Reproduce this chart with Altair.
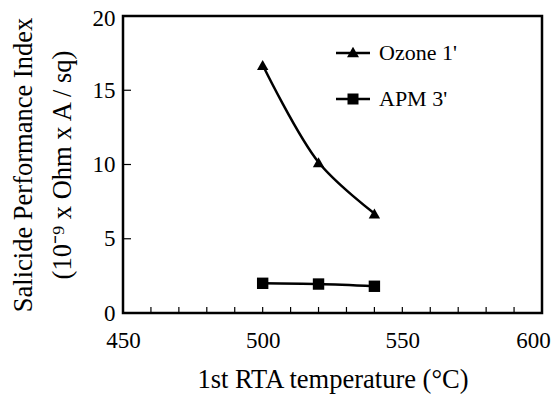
import altair as alt
import pandas as pd

# ---- data ----
temps = [500, 520, 540]
ozone = [16.7, 10.15, 6.7]
apm = [2.0, 1.95, 1.8]
series_names = ["Ozone 1'", "APM 3'"]
x_tick_labels = [450, 500, 550, 600]
x_minor_ticks = [460, 470, 480, 490, 500, 510, 520, 530, 540, 550, 560, 570, 580, 590]
y_tick_labels = [0, 5, 10, 15, 20]
y_inner_ticks = [5, 10, 15]

df = pd.DataFrame({
    "temp": temps + temps,
    "value": ozone + apm,
    "series": [series_names[0]] * len(temps) + [series_names[1]] * len(temps),
})
xt = pd.DataFrame({"t": x_minor_ticks})
yt = pd.DataFrame({"v": y_inner_ticks})

W, H = 419, 297
FONT = "Liberation Serif"

xs = alt.Scale(domain=[450, 600], nice=False, zero=False)
ys = alt.Scale(domain=[0, 20], nice=False)

x_enc = alt.X("temp:Q", scale=xs, axis=alt.Axis(
    values=x_tick_labels, title="1st RTA temperature (°C)",
    labelFlush=False, labelFont=FONT, titleFont=FONT,
    labelOffset={"condition": {"test": "datum.value == 600", "value": -9}, "value": 0},
    labelPadding=16, titlePadding=14))
y_enc = alt.Y("value:Q", scale=ys, axis=alt.Axis(
    values=y_tick_labels,
    title=["Salicide Performance Index", "(10⁻⁹ x Ohm x A / sq)"],
    labelFlush=False, labelFont=FONT, titleFont=FONT,
    labelOffset={"condition": {"test": "datum.value == 20", "value": 2}, "value": 0},
    labelPadding=8, titlePadding=16, titleLineHeight=39))

lines = alt.Chart(df).mark_line(color="black", strokeWidth=2.5, interpolate="catmull-rom").encode(
    x=x_enc, y=y_enc, detail="series:N")

points = alt.Chart(df).mark_point(filled=True, color="black", size=130, opacity=1).encode(
    x=x_enc, y=y_enc,
    shape=alt.Shape("series:N", scale=alt.Scale(domain=series_names, range=["triangle-up", "square"]), legend=None))

legend_paths = [
    "M-1.7,-0.12H1.7V0.12H-1.7Z M0,-0.62L0.6,0.42L-0.6,0.42Z",
    "M-1.7,-0.12H1.7V0.12H-1.7Z M-0.55,-0.55H0.55V0.55H-0.55Z",
]
legend_layer = alt.Chart(df).mark_point(filled=True, color="black", opacity=0).encode(
    x=x_enc, y=y_enc,
    shape=alt.Shape("series:N",
                    scale=alt.Scale(domain=series_names, range=legend_paths),
                    legend=alt.Legend(orient="none", legendX=219, legendY=26, title=None,
                                      symbolSize=400, symbolOpacity=1, symbolFillColor="black",
                                      symbolStrokeWidth=0,
                                      labelFont=FONT, labelFontSize=22, labelColor="black",
                                      labelOffset=15, rowPadding=24)))

x_ticks = alt.Chart(xt).mark_rule(color="black", strokeWidth=1.2).encode(
    x=alt.X("t:Q", scale=xs), y=alt.value(H), y2=alt.value(H - 6))
y_ticks = alt.Chart(yt).mark_rule(color="black", strokeWidth=1.2).encode(
    y=alt.Y("v:Q", scale=ys), x=alt.value(0), x2=alt.value(8))

chart = alt.layer(legend_layer, lines, points, x_ticks, y_ticks).resolve_scale(
    shape="independent"
).properties(
    width=W, height=H,
    autosize=alt.AutoSizeParams(type="none"),
    padding={"left": 115, "top": 8, "right": 9, "bottom": 84},
).configure_view(
    stroke="black", strokeWidth=2.5
).configure_axis(
    domain=False, grid=False, ticks=False,
    labelFont=FONT, labelFontSize=23, labelColor="black",
    titleFont=FONT, titleFontSize=26.5, titleFontWeight="normal", titleColor="black",
)

chart.save("out.html", embed_options={"renderer": "svg", "actions": False})
